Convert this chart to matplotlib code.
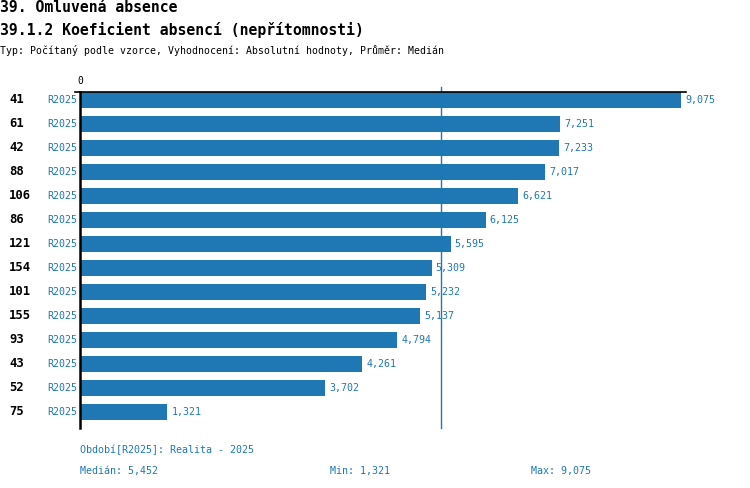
import matplotlib
matplotlib.use("Agg")
import matplotlib.pyplot as plt
import matplotlib.transforms as mtransforms

# ---- data ----
row_labels = ["41", "61", "42", "88", "106", "86", "121", "154", "101", "155", "93", "43", "52", "75"]
series_labels = ["R2025"] * 14
values = [9.075, 7.251, 7.233, 7.017, 6.621, 6.125, 5.595, 5.309, 5.232, 5.137, 4.794, 4.261, 3.702, 1.321]
median_value = 5.452
min_value = 1.321
max_value = 9.075
title1 = "39. Omluvená absence"
title2 = "39.1.2 Koeficient absencí (nepřítomnosti)"
subtitle = "Typ: Počítaný podle vzorce, Vyhodnocení: Absolutní hodnoty, Průměr: Medián"
period_text = "Období[R2025]: Realita - 2025"

BLUE = "#1f77b4"
MONO = ["DejaVu Sans Mono"]
W, H = 750, 488


def fmt(v):
    return f"{v:.3f}".replace(".", ",")


def fx(px):
    return px / W


def fy(py):
    return 1 - py / H


fig = plt.figure(figsize=(W / 100, H / 100), dpi=100)
ax_left, ax_right, ax_top, ax_bottom = 80, 686, 92, 428
ax = fig.add_axes([fx(ax_left), fy(ax_bottom), (ax_right - ax_left) / W, (ax_bottom - ax_top) / H])

n = len(values)
ys = list(range(n))
ax.barh(ys, values, height=0.667, color=BLUE, left=0)
scale = (681 - 80) / max_value
ax.set_xlim(0, (ax_right - ax_left) / scale)
ax.set_ylim(n - 1 + 0.667, -0.333)

for s in ["right", "bottom"]:
    ax.spines[s].set_visible(False)
ax.spines["left"].set_linewidth(1.8)
ax.spines["left"].set_color("black")
ax.spines["top"].set_linewidth(1.2)
ax.spines["top"].set_color("black")
ax.set_xticks([])
ax.set_yticks([])

# small leftward extension of top line
ax.plot([-5 / (ax_right - ax_left), 0], [1, 1], transform=ax.transAxes, color="black", lw=1.2, clip_on=False)

# median line
ax.axvline(median_value, ymin=0, ymax=1 + 5 / (ax_bottom - ax_top), color=BLUE, lw=1, clip_on=False)

# value labels
for y, v in zip(ys, values):
    ax.annotate(fmt(v), (v, y), xytext=(3, 0), textcoords="offset points",
                va="center", ha="left", color=BLUE, fontsize=7.2, family=MONO)

# row labels
trans = mtransforms.blended_transform_factory(fig.transFigure, ax.transData)
for y, lab, s in zip(ys, row_labels, series_labels):
    ax.text(fx(9), y, lab, transform=trans, ha="left", va="center", fontsize=8.8,
            fontweight="bold", family=MONO, color="black")
    ax.text(fx(77.5), y, s, transform=trans, ha="right", va="center", fontsize=7.2,
            family=MONO, color=BLUE)

# zero label
fig.text(fx(80), fy(81), "0", ha="center", va="center", fontsize=7, family=MONO, color="black")

# titles
fig.text(fx(0), fy(8), title1, ha="left", va="center", fontsize=10.6, family=MONO, fontweight="bold")
fig.text(fx(0), fy(30), title2, ha="left", va="center", fontsize=10.6, family=MONO, fontweight="bold")
fig.text(fx(0), fy(51), subtitle, ha="left", va="center", fontsize=7.1, family=MONO)

# footer
fig.text(fx(80), fy(450), period_text, ha="left", va="center", fontsize=7.2, family=MONO, color=BLUE)
fig.text(fx(80), fy(471), "Medián: " + fmt(median_value), ha="left", va="center", fontsize=7.2, family=MONO, color=BLUE)
fig.text(fx(330), fy(471), "Min: " + fmt(min_value), ha="left", va="center", fontsize=7.2, family=MONO, color=BLUE)
fig.text(fx(531), fy(471), "Max: " + fmt(max_value), ha="left", va="center", fontsize=7.2, family=MONO, color=BLUE)

fig.savefig("out.png", dpi=100)
